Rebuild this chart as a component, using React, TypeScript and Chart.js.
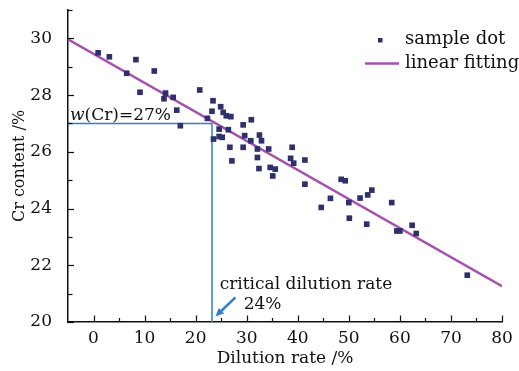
import { useEffect, useRef } from 'react';
import { Chart, registerables } from 'chart.js';

Chart.register(...registerables);

// ---- data ----
const sampleX = [
  0.9, 3.1, 8.3, 6.5, 11.9, 9.1, 14.1, 13.8, 15.6, 16.3, 17.0,
  20.8, 23.4, 23.2, 24.9, 25.4, 26.0, 26.9, 22.3, 24.6, 26.4, 29.3, 30.9,
  23.5, 24.6, 25.2, 26.7, 29.3, 27.1, 29.6, 30.8, 32.1, 32.1, 32.4,
  32.5, 32.9, 34.3, 34.6, 35.6, 35.1, 38.9, 38.6, 39.2, 41.4, 41.4,
  48.5, 49.3, 46.4, 44.6, 50.0, 50.1, 52.2, 53.7, 54.5, 53.5,
  58.4, 59.4, 60.0, 62.4, 63.2, 73.2,
];
const sampleY = [
  29.49, 29.35, 29.25, 28.77, 28.85, 28.1, 28.07, 27.87, 27.92, 27.47, 26.92,
  28.18, 27.8, 27.43, 27.59, 27.39, 27.27, 27.24, 27.18, 26.8, 26.78, 26.95, 27.13,
  26.45, 26.54, 26.51, 26.16, 26.16, 25.68, 26.57, 26.39, 26.1, 25.8, 25.41,
  26.59, 26.39, 26.1, 25.45, 25.39, 25.15, 26.16, 25.77, 25.6, 25.71, 24.86,
  25.03, 24.98, 24.36, 24.04, 24.21, 23.66, 24.37, 24.48, 24.65, 23.45,
  24.21, 23.21, 23.21, 23.41, 23.12, 21.65,
];
const fitX = [-5, 80];
const fitY = [29.97, 21.26];
const guideX = [-5, 23.2, 23.2];
const guideY = [27, 27, 20];
const arrowX = [27.8, 23.9];
const arrowY = [20.87, 20.2];

const xLabelValues = [0, 10, 20, 30, 40, 50, 60, 70, 80];
const yLabelValues = [20, 22, 24, 26, 28, 30];
const X_MIN = -5;
const X_MAX = 80;
const Y_MIN = 20;
const Y_MAX = 31;

const xTitle = 'Dilution rate /%';
const yTitle = 'Cr content /%';
const legendLabels = ['sample dot', 'linear fitting'];
const guideLabel = ['w', '(Cr)=27%'];
const criticalLabel = ['critical dilution rate', '24%'];

const SERIF = '"DejaVu Serif", serif';
const DOT = '#2f2f6c';
const FIT = '#a552ad';
const BLUE = '#2f7fcf';

const inkPlugin = {
  id: 'ink',
  afterDraw(chart: any) {
    const { ctx, chartArea, scales } = chart;
    const x = scales.x;
    const y = scales.y;
    ctx.save();
    // inward ticks
    ctx.strokeStyle = '#111';
    ctx.lineWidth = 1.2;
    for (let v = Y_MIN; v <= Y_MAX; v += 1) {
      const py = Math.round(y.getPixelForValue(v)) + 0.5;
      const len = v % 2 === 0 ? 6 : 4.5;
      ctx.beginPath();
      ctx.moveTo(chartArea.left, py);
      ctx.lineTo(chartArea.left + len, py);
      ctx.stroke();
    }
    for (let v = X_MIN; v <= X_MAX; v += 5) {
      if (v === X_MIN) continue;
      const px = Math.round(x.getPixelForValue(v)) + 0.5;
      const len = v % 10 === 0 ? 6.5 : 4;
      ctx.beginPath();
      ctx.moveTo(px, chartArea.bottom);
      ctx.lineTo(px, chartArea.bottom - len);
      ctx.stroke();
    }

    // w(Cr)=27% label
    ctx.fillStyle = '#111';
    ctx.textBaseline = 'alphabetic';
    ctx.textAlign = 'left';
    const gx = x.getPixelForValue(-4.6);
    const gy = y.getPixelForValue(27) - 3;
    ctx.font = 'italic 17px ' + SERIF;
    ctx.fillText(guideLabel[0], gx, gy);
    const ww = ctx.measureText(guideLabel[0]).width;
    ctx.font = '17px ' + SERIF;
    ctx.fillText(guideLabel[1], gx + ww, gy);

    // critical dilution rate
    ctx.textBaseline = 'middle';
    ctx.fillText(criticalLabel[0], x.getPixelForValue(24.7), y.getPixelForValue(21.33));
    ctx.fillText(criticalLabel[1], x.getPixelForValue(29.4), y.getPixelForValue(20.62));

    // arrow
    const ax0 = x.getPixelForValue(arrowX[0]);
    const ay0 = y.getPixelForValue(arrowY[0]);
    const ax1 = x.getPixelForValue(arrowX[1]);
    const ay1 = y.getPixelForValue(arrowY[1]);
    const ang = Math.atan2(ay1 - ay0, ax1 - ax0);
    const head = 9;
    ctx.strokeStyle = BLUE;
    ctx.fillStyle = BLUE;
    ctx.lineWidth = 2.5;
    ctx.beginPath();
    ctx.moveTo(ax0, ay0);
    ctx.lineTo(ax1 - Math.cos(ang) * head * 0.7, ay1 - Math.sin(ang) * head * 0.7);
    ctx.stroke();
    ctx.beginPath();
    ctx.moveTo(ax1, ay1);
    ctx.lineTo(ax1 - head * Math.cos(ang - 0.45), ay1 - head * Math.sin(ang - 0.45));
    ctx.lineTo(ax1 - head * Math.cos(ang + 0.45), ay1 - head * Math.sin(ang + 0.45));
    ctx.closePath();
    ctx.fill();

    // legend
    ctx.fillStyle = DOT;
    ctx.fillRect(378, 38, 4.5, 4.5);
    ctx.strokeStyle = FIT;
    ctx.lineWidth = 2.5;
    ctx.beginPath();
    ctx.moveTo(365, 63.5);
    ctx.lineTo(399, 63.5);
    ctx.stroke();
    ctx.fillStyle = '#111';
    ctx.font = '18px ' + SERIF;
    ctx.textBaseline = 'middle';
    ctx.fillText(legendLabels[0], 405, 39);
    ctx.fillText(legendLabels[1], 405, 63);

    ctx.restore();
  },
};

export default function App() {
  const ref = useRef<HTMLCanvasElement | null>(null);

  useEffect(() => {
    if (!ref.current) return;
    const chart = new Chart(ref.current, {
      type: 'scatter',
      data: {
        datasets: [
          {
            label: legendLabels[0],
            data: sampleX.map((v, i) => ({ x: v, y: sampleY[i] })),
            pointStyle: 'rect',
            pointRadius: 4,
            pointBackgroundColor: DOT,
            pointBorderWidth: 0,
            showLine: false,
          },
          {
            label: legendLabels[1],
            data: fitX.map((v, i) => ({ x: v, y: fitY[i] })),
            showLine: true,
            pointRadius: 0,
            borderColor: FIT,
            borderWidth: 2.5,
          },
          {
            label: 'guide',
            data: guideX.map((v, i) => ({ x: v, y: guideY[i] })),
            showLine: true,
            pointRadius: 0,
            borderColor: BLUE,
            borderWidth: 1.5,
          },
        ],
      },
      options: {
        animation: false,
        responsive: true,
        maintainAspectRatio: false,
        layout: { padding: { top: 10, right: 17, left: 0, bottom: 0 } },
        plugins: { legend: { display: false }, tooltip: { enabled: false } },
        scales: {
          x: {
            type: 'linear',
            min: X_MIN,
            max: X_MAX,
            grid: { display: false },
            border: { display: true, color: '#111', width: 1.5 },
            ticks: {
              stepSize: 5,
              padding: -2,
              color: '#111',
              font: { family: SERIF, size: 17 },
              maxRotation: 0,
              autoSkip: false,
              callback: (v: any) => (xLabelValues.includes(Number(v)) ? String(v) : ''),
            },
            title: {
              display: true,
              text: xTitle,
              color: '#111',
              font: { family: SERIF, size: 17 },
              padding: { top: 0, bottom: 2 },
            },
            afterFit: (s: any) => {
              s.height = 49;
              s.paddingLeft = 0;
              s.paddingRight = 0;
            },
          },
          y: {
            type: 'linear',
            min: Y_MIN,
            max: Y_MAX,
            grid: { display: false },
            border: { display: true, color: '#111', width: 1.5 },
            ticks: {
              stepSize: 1,
              padding: 8,
              color: '#111',
              font: { family: SERIF, size: 17 },
              autoSkip: false,
              callback: (v: any) => (yLabelValues.includes(Number(v)) ? String(v) : ''),
            },
            title: {
              display: true,
              text: yTitle,
              color: '#111',
              font: { family: SERIF, size: 16 },
              padding: { top: 10, bottom: 0 },
            },
            afterFit: (s: any) => {
              s.width = 68;
              s.paddingTop = 0;
              s.paddingBottom = 0;
            },
          },
        },
      },
      plugins: [inkPlugin],
    });
    return () => chart.destroy();
  }, []);

  return (
    <div style={{ position: 'fixed', left: 0, top: 0, width: 519, height: 371, background: '#fff' }}>
      <canvas ref={ref} />
    </div>
  );
}
